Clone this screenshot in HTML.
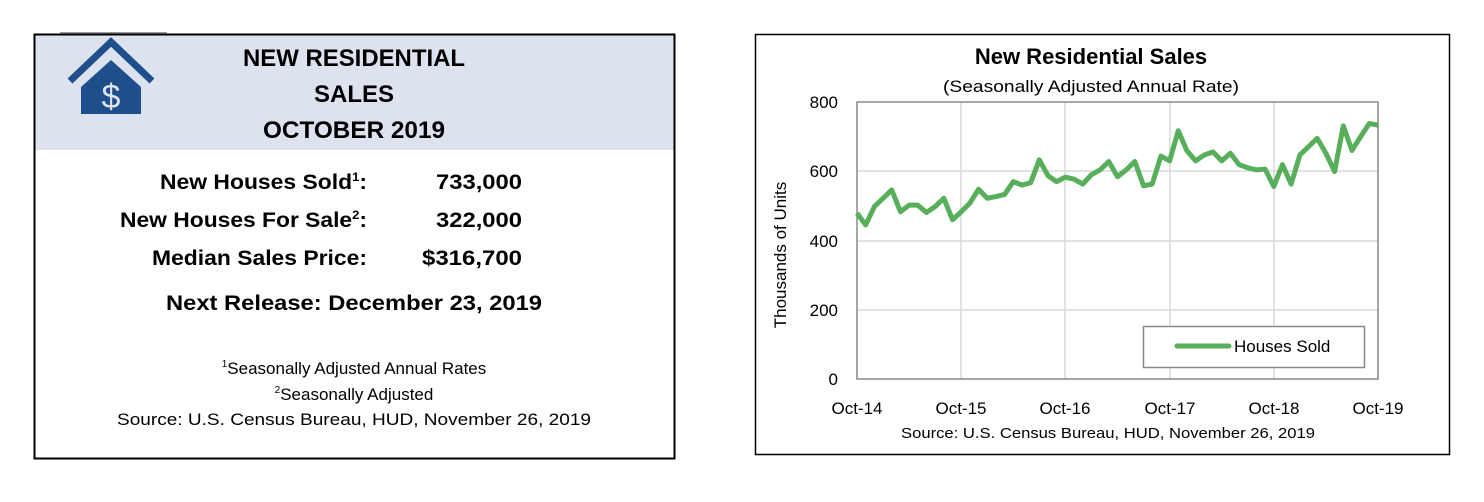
<!DOCTYPE html>
<html><head><meta charset="utf-8"><style>
html,body{margin:0;padding:0;background:#fff;}
svg{display:block;font-family:"Liberation Sans",sans-serif;}
</style></head><body>
<svg width="1484" height="502" viewBox="0 0 1484 502" xmlns="http://www.w3.org/2000/svg">
<rect width="1484" height="502" fill="#fff"/>
<line x1="60" y1="33" x2="167" y2="33" stroke="#999" stroke-width="2"/>
<rect x="35" y="35" width="639" height="115" fill="#dce3ef"/>
<rect x="34.5" y="34.5" width="640" height="424" fill="none" stroke="#000" stroke-width="2"/>
<path d="M70 81 L111 42 L152 81" fill="none" stroke="#1f4e8c" stroke-width="7" stroke-linejoin="miter"/>
<path d="M81 87 L111 60 L141 87 L141 114 L81 114 Z" fill="#1f4e8c"/>
<text x="111" y="108" font-size="34" fill="#dce3ef" text-anchor="middle">$</text>
<g font-weight="bold" font-size="24" text-anchor="middle" fill="#000">
<text x="354" y="66" textLength="222" lengthAdjust="spacingAndGlyphs">NEW RESIDENTIAL</text>
<text x="354" y="102">SALES</text>
<text x="354" y="138" textLength="182" lengthAdjust="spacingAndGlyphs">OCTOBER 2019</text>
</g>
<g font-weight="bold" font-size="21" fill="#000">
<text x="160" y="189" textLength="207" lengthAdjust="spacingAndGlyphs">New Houses Sold<tspan font-size="12" dy="-8">1</tspan><tspan dy="8">:</tspan></text>
<text x="120" y="227" textLength="247" lengthAdjust="spacingAndGlyphs">New Houses For Sale<tspan font-size="12" dy="-8">2</tspan><tspan dy="8">:</tspan></text>
<text x="152" y="265" textLength="215" lengthAdjust="spacingAndGlyphs">Median Sales Price:</text>
<text x="436" y="189" textLength="86" lengthAdjust="spacingAndGlyphs">733,000</text>
<text x="436" y="227" textLength="86" lengthAdjust="spacingAndGlyphs">322,000</text>
<text x="422" y="265" textLength="100" lengthAdjust="spacingAndGlyphs">$316,700</text>
<text x="354" y="310" text-anchor="middle" textLength="376" lengthAdjust="spacingAndGlyphs">Next Release:  December 23, 2019</text>
</g>
<g font-size="17" fill="#000" text-anchor="middle">
<text x="354" y="374"><tspan font-size="10" dy="-7">1</tspan><tspan dy="7">Seasonally Adjusted Annual Rates</tspan></text>
<text x="354" y="400"><tspan font-size="10" dy="-7">2</tspan><tspan dy="7">Seasonally Adjusted</tspan></text>
<text x="354" y="425" textLength="474" lengthAdjust="spacingAndGlyphs">Source:  U.S. Census Bureau, HUD, November 26, 2019</text>
</g>
<rect x="755.5" y="34.5" width="694" height="420" fill="none" stroke="#000" stroke-width="1.5"/>
<text x="1091" y="64" font-size="22" font-weight="bold" text-anchor="middle">New Residential Sales</text>
<text x="1091" y="92" font-size="17" text-anchor="middle" textLength="296" lengthAdjust="spacingAndGlyphs">(Seasonally Adjusted Annual Rate)</text>
<g stroke="#d9d9d9" stroke-width="1.5">
<line x1="961" y1="102" x2="961" y2="379"/>
<line x1="1065" y1="102" x2="1065" y2="379"/>
<line x1="1170" y1="102" x2="1170" y2="379"/>
<line x1="1274" y1="102" x2="1274" y2="379"/>
<line x1="857" y1="171" x2="1378" y2="171"/>
<line x1="857" y1="241" x2="1378" y2="241"/>
<line x1="857" y1="310" x2="1378" y2="310"/>
</g>
<rect x="857" y="102" width="521" height="277" fill="none" stroke="#888" stroke-width="1.5"/>
<g font-size="17" fill="#000" text-anchor="end">
<text x="838" y="108">800</text>
<text x="838" y="177">600</text>
<text x="838" y="247">400</text>
<text x="838" y="316">200</text>
<text x="838" y="385">0</text>
</g>
<text transform="translate(786,255) rotate(-90)" font-size="17" text-anchor="middle">Thousands of Units</text>
<g font-size="17" text-anchor="middle">
<text x="857" y="414">Oct-14</text>
<text x="961" y="414">Oct-15</text>
<text x="1065" y="414">Oct-16</text>
<text x="1170" y="414">Oct-17</text>
<text x="1274" y="414">Oct-18</text>
<text x="1378" y="414">Oct-19</text>
</g>
<text x="1108" y="438" font-size="15" text-anchor="middle" textLength="414" lengthAdjust="spacingAndGlyphs">Source:  U.S. Census Bureau, HUD, November 26, 2019</text>
<g transform="translate(857,379) scale(8.6833,-0.34625)">
<polyline vector-effect="non-scaling-stroke" fill="none" stroke="#57ae5b" stroke-width="5" stroke-linejoin="round"
points="0,479 1,445 2,498 3,522 4,546 5,483 6,502 7,502 8,481 9,498 10,522 11,460 12,483 13,508 14,548 15,522 16,527 17,533 18,570 19,560 20,567 21,633 22,587 23,570 24,583 25,577 26,563 27,590 28,604 29,628 30,584 31,604 32,628 33,558 34,563 35,644 36,630 37,717 38,659 39,630 40,647 41,656 42,630 43,652 44,619 45,610 46,604 47,606 48,556 49,619 50,563 51,647 52,671 53,695 54,652 55,599 56,731 57,660 58,700 59,738 60,733"/>
</g>
<rect x="1143.5" y="326.5" width="221" height="41" fill="#fff" stroke="#888" stroke-width="1.5"/>
<line x1="1177" y1="346" x2="1229" y2="346" stroke="#57ae5b" stroke-width="5" stroke-linecap="round"/>
<text x="1234" y="352" font-size="17">Houses Sold</text>
</svg>
</body></html>
